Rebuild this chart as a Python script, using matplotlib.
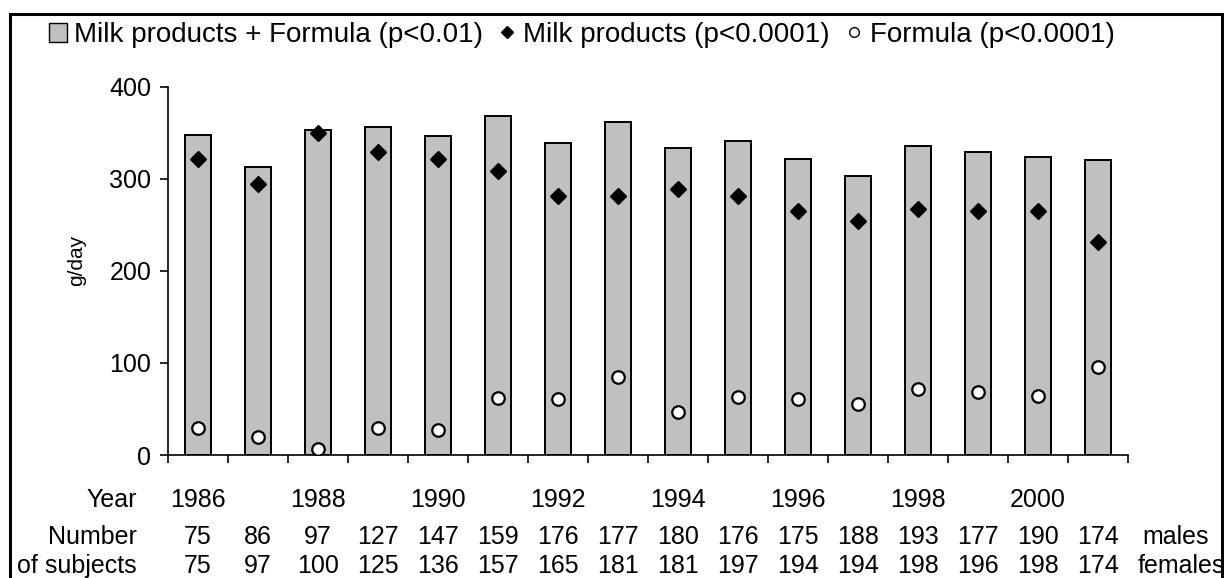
import numpy as np
import matplotlib
matplotlib.use("Agg")
import matplotlib.pyplot as plt
from matplotlib.patches import Patch, Rectangle
from matplotlib.lines import Line2D

plt.rcParams['font.family'] = ['Liberation Sans', 'DejaVu Sans']

# Data
years = list(range(1986, 2002))
total = [348, 313, 353, 356, 347, 369, 339, 362, 334, 341, 322, 303, 336, 329, 324, 321]
milk = [322, 295, 350, 329, 322, 309, 281, 281, 289, 281, 265, 254, 267, 265, 265, 232]
formula = [29, 20, 6, 29, 27, 62, 61, 85, 47, 63, 61, 55, 72, 68, 64, 96]
males = [75, 86, 97, 127, 147, 159, 176, 177, 180, 176, 175, 188, 193, 177, 190, 174]
females = [75, 97, 100, 125, 136, 157, 165, 181, 181, 197, 194, 194, 198, 196, 198, 174]

x = np.arange(len(years))

fig = plt.figure(figsize=(12.24, 5.78), dpi=100)
ax = fig.add_axes([0.1373, 0.2128, 0.7843, 0.6367])

ax.bar(x, total, width=0.42, color='#c0c0c0', edgecolor='black', linewidth=1.4, zorder=2)
ax.plot(x, milk, linestyle='none', marker='D', markersize=8, color='black', zorder=3)
ax.plot(x, formula, linestyle='none', marker='o', markersize=9, markerfacecolor='white',
        markeredgecolor='black', markeredgewidth=1.6, zorder=3)

# Axes styling
ax.set_xlim(-0.5, len(years) - 0.5)
ax.set_ylim(0, 400)
ax.set_yticks([0, 100, 200, 300, 400])
ax.set_xticks(np.arange(-0.5, len(years), 1.0))
ax.set_xticklabels([])
ax.spines['top'].set_visible(False)
ax.spines['right'].set_visible(False)
ax.spines['left'].set_linewidth(1.2)
ax.spines['bottom'].set_linewidth(1.2)
ax.tick_params(axis='both', direction='out', length=6, width=1.2, labelsize=18)
ax.tick_params(axis='y', pad=6)

fig.text(77 / 1224, 0.55, 'g/day', rotation=90, ha='center', va='center', fontsize=15)

# Year row and subject counts under the axis
tr = ax.get_xaxis_transform()
for i, yr in enumerate(years):
    if yr % 2 == 0:
        ax.text(x[i], -0.1223, str(yr), transform=tr, ha='center', va='center', fontsize=18)
    ax.text(x[i], -0.223, str(males[i]), transform=tr, ha='center', va='center', fontsize=18)
    ax.text(x[i], -0.302, str(females[i]), transform=tr, ha='center', va='center', fontsize=18)

fig.text(137 / 1224, 1 - 500 / 578, 'Year', ha='right', va='center', fontsize=18)
fig.text(137 / 1224, 1 - 537 / 578, 'Number', ha='right', va='center', fontsize=18)
fig.text(137 / 1224, 1 - 566 / 578, 'of subjects', ha='right', va='center', fontsize=18)
fig.text(1142 / 1224, 1 - 537 / 578, 'males', ha='left', va='center', fontsize=18)
fig.text(1138 / 1224, 1 - 566 / 578, 'females', ha='left', va='center', fontsize=18)

# Legend
handles = [
    Patch(facecolor='#c0c0c0', edgecolor='black', linewidth=1.0),
    Line2D([], [], linestyle='none', marker='D', markersize=6, color='black'),
    Line2D([], [], linestyle='none', marker='o', markersize=7, markerfacecolor='white',
           markeredgecolor='black', markeredgewidth=1.0),
]
labels = ['Milk products + Formula (p<0.01)', 'Milk products (p<0.0001)', 'Formula (p<0.0001)']
fig.legend(handles, labels, loc='center left', bbox_to_anchor=(49 / 1224, 1 - 35 / 578),
           ncol=3, frameon=False, fontsize=20, handlelength=0.65, handleheight=0.65,
           handletextpad=0.25, columnspacing=0.55, borderpad=0, borderaxespad=0)

# Outer frame
fig.patches.append(Rectangle((10 / 1224, -0.05), 1212 / 1224, 0.05 + 1 - 14 / 578,
                             transform=fig.transFigure, fill=False, edgecolor='black',
                             linewidth=2.2, clip_on=False))

fig.savefig('out.png', dpi=100)
